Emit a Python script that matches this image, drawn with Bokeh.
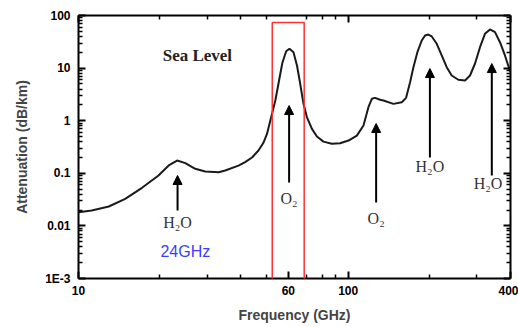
from bokeh.plotting import figure
from bokeh.models import (LogAxis, FixedTicker, CustomJSTickFormatter, Arrow,
                          NormalHead, BoxAnnotation, ColumnDataSource)
from bokeh.core.properties import value
from bokeh.embed import file_html
from bokeh.resources import INLINE

# ---- data ----
freq_ghz = [10, 11.2, 12.95, 14.9, 17.2, 19.8, 21.6, 23.2, 24.9, 27.1, 29.5, 33.1, 35.0,
            39.2, 41.5, 44.0, 46.5, 48.5, 50.0, 52.2, 53.7, 55.5, 57.0, 58.9, 60.6, 62.7,
            64.6, 66.4, 68.3, 70.3, 73.4, 76.6, 81.0, 87.0, 93.3, 100.3, 107.7, 114.0,
            118.9, 122.4, 125.9, 131.4, 135.1, 147.2, 158.1, 164.0, 169.7, 174.6, 180.6,
            187.5, 192.8, 198.3, 204.2, 213.1, 222.3, 232.0, 242.1, 256.2, 271.3,
            283.1, 295.3, 308.3, 321.6, 335.7, 350.4, 365.6, 381.5, 395.8, 400]
atten_db_km = [0.0182, 0.0196, 0.0234, 0.0327, 0.053, 0.091, 0.141, 0.175, 0.156, 0.122,
               0.108, 0.105, 0.113, 0.14, 0.163, 0.2, 0.271, 0.38, 0.56, 1.35, 2.42, 6.0,
               12.5, 20.9, 23.3, 20.1, 11.2, 5.03, 2.09, 1.17, 0.70, 0.50, 0.40, 0.364,
               0.373, 0.42, 0.52, 0.81, 1.81, 2.61, 2.72, 2.50, 2.42, 2.09, 2.25, 2.72,
               5.40, 10.4, 20.1, 33.5, 41.7, 43.5, 39.9, 29.0, 17.4, 10.4, 7.23, 6.0,
               5.81, 7.23, 12.1, 25.0, 44.9, 54.2, 48.2, 31.1, 17.4, 9.7, 8.6]

arrow_freq = [23.3, 60.4, 127.0, 201.0, 341.0]
arrow_tip = [0.091, 1.94, 0.885, 9.8, 12.2]
arrow_base = [0.0196, 0.067, 0.0279, 0.2, 0.091]
label_freq = [23.3, 60.4, 127.0, 201.0, 330.0]
label_y = [0.0116, 0.033, 0.0138, 0.134, 0.064]
label_text = ["H₂O", "O₂", "O₂", "H₂O", "H₂O"]

x_tick_labels = [10, 60, 100, 400]
x_minor = [20, 30, 40, 50, 70, 80, 90, 200, 300]
y_major = [0.001, 0.01, 0.1, 1, 10, 100]
y_minor = [m * d for d in [0.001, 0.01, 0.1, 1, 10] for m in range(2, 10)]

highlight_lo, highlight_hi = 52.3, 68.7
highlight_top, highlight_bottom = 73.6, 2.8e-4

# ---- figure ----
p = figure(width=518, height=327, x_axis_type="log", y_axis_type="log",
           x_range=(10, 400), y_range=(1e-3, 100),
           output_backend="svg", toolbar_location=None,
           min_border_left=78, min_border_right=8, min_border_top=15, min_border_bottom=49)
p.background_fill_color = "white"
p.border_fill_color = "white"
p.outline_line_color = None
p.xgrid.visible = False
p.ygrid.visible = False

fmt_x = CustomJSTickFormatter(code="return Math.round(tick).toString();")
fmt_y = CustomJSTickFormatter(code="""
const e = Math.round(Math.log10(tick));
const m = {'-3':'1E-3','-2':'0.01','-1':'0.1','0':'1','1':'10','2':'100'};
return (String(e) in m) ? m[String(e)] : '';
""")
fmt_blank = CustomJSTickFormatter(code="return '';")

def style(ax):
    ax.axis_line_width = 2
    ax.axis_line_color = "black"
    ax.major_tick_in = 7
    ax.major_tick_out = 0
    ax.minor_tick_in = 4
    ax.minor_tick_out = 0
    ax.major_tick_line_width = 2
    ax.minor_tick_line_width = 1.5
    ax.major_label_text_font = "Liberation Sans"
    ax.major_label_text_font_style = "bold"
    ax.major_label_text_font_size = "12px"
    ax.major_label_text_color = "black"

xa = p.xaxis[0]
style(xa)
xa.ticker = FixedTicker(ticks=x_tick_labels, minor_ticks=x_minor)
xa.formatter = fmt_x
xa.major_label_standoff = 7
xa.axis_label = "Frequency (GHz)"
xa.axis_label_text_font = "Liberation Sans"
xa.axis_label_text_font_style = "bold"
xa.axis_label_text_font_size = "14px"
xa.axis_label_standoff = 9

ya = p.yaxis[0]
style(ya)
ya.ticker = FixedTicker(ticks=y_major, minor_ticks=y_minor)
ya.formatter = fmt_y
ya.major_label_standoff = 8
ya.axis_label = "Attenuation (dB/km)"
ya.axis_label_text_font = "Liberation Sans"
ya.axis_label_text_font_style = "bold"
ya.axis_label_text_font_size = "14px"
ya.axis_label_standoff = 12

top = LogAxis(ticker=FixedTicker(ticks=[10, 100, 400], minor_ticks=x_minor),
              formatter=fmt_blank)
style(top)
top.major_label_standoff = 0
p.add_layout(top, "above")

right = LogAxis(ticker=FixedTicker(ticks=y_major, minor_ticks=y_minor),
                formatter=fmt_blank)
style(right)
right.major_label_standoff = 0
p.add_layout(right, "right")

# ---- curve ----
src = ColumnDataSource(dict(f=freq_ghz, a=atten_db_km))
p.line("f", "a", source=src, line_width=2, line_color="#1a1a1a")

# ---- arrows and labels ----
for f, t, b in zip(arrow_freq, arrow_tip, arrow_base):
    p.add_layout(Arrow(end=NormalHead(size=9, fill_color="black", line_color="black"),
                       x_start=f, y_start=b, x_end=f, y_end=t,
                       line_width=2, line_color="black"))

p.text(x=label_freq, y=label_y, text=label_text, text_font=value("Liberation Serif"),
       text_font_size="16px", text_color="#333333", text_align="center",
       text_baseline="middle")

p.text(x=[27.6], y=[17.4], text=["Sea Level"], text_font=value("Liberation Serif"),
       text_font_size="17px", text_font_style="bold", text_color="#222222",
       text_align="center", text_baseline="middle")

p.text(x=[24.9], y=[0.0033], text=["24GHz"], text_font=value("Liberation Sans"),
       text_font_size="16px", text_color="#3c3cff", text_align="center",
       text_baseline="middle")

p.add_layout(BoxAnnotation(left=highlight_lo, right=highlight_hi,
                           top=highlight_top, bottom=highlight_bottom,
                           fill_alpha=0, line_color="#ff3333", line_alpha=1.0,
                           line_width=1.5))

open("out.html", "w").write(file_html(p, INLINE))
